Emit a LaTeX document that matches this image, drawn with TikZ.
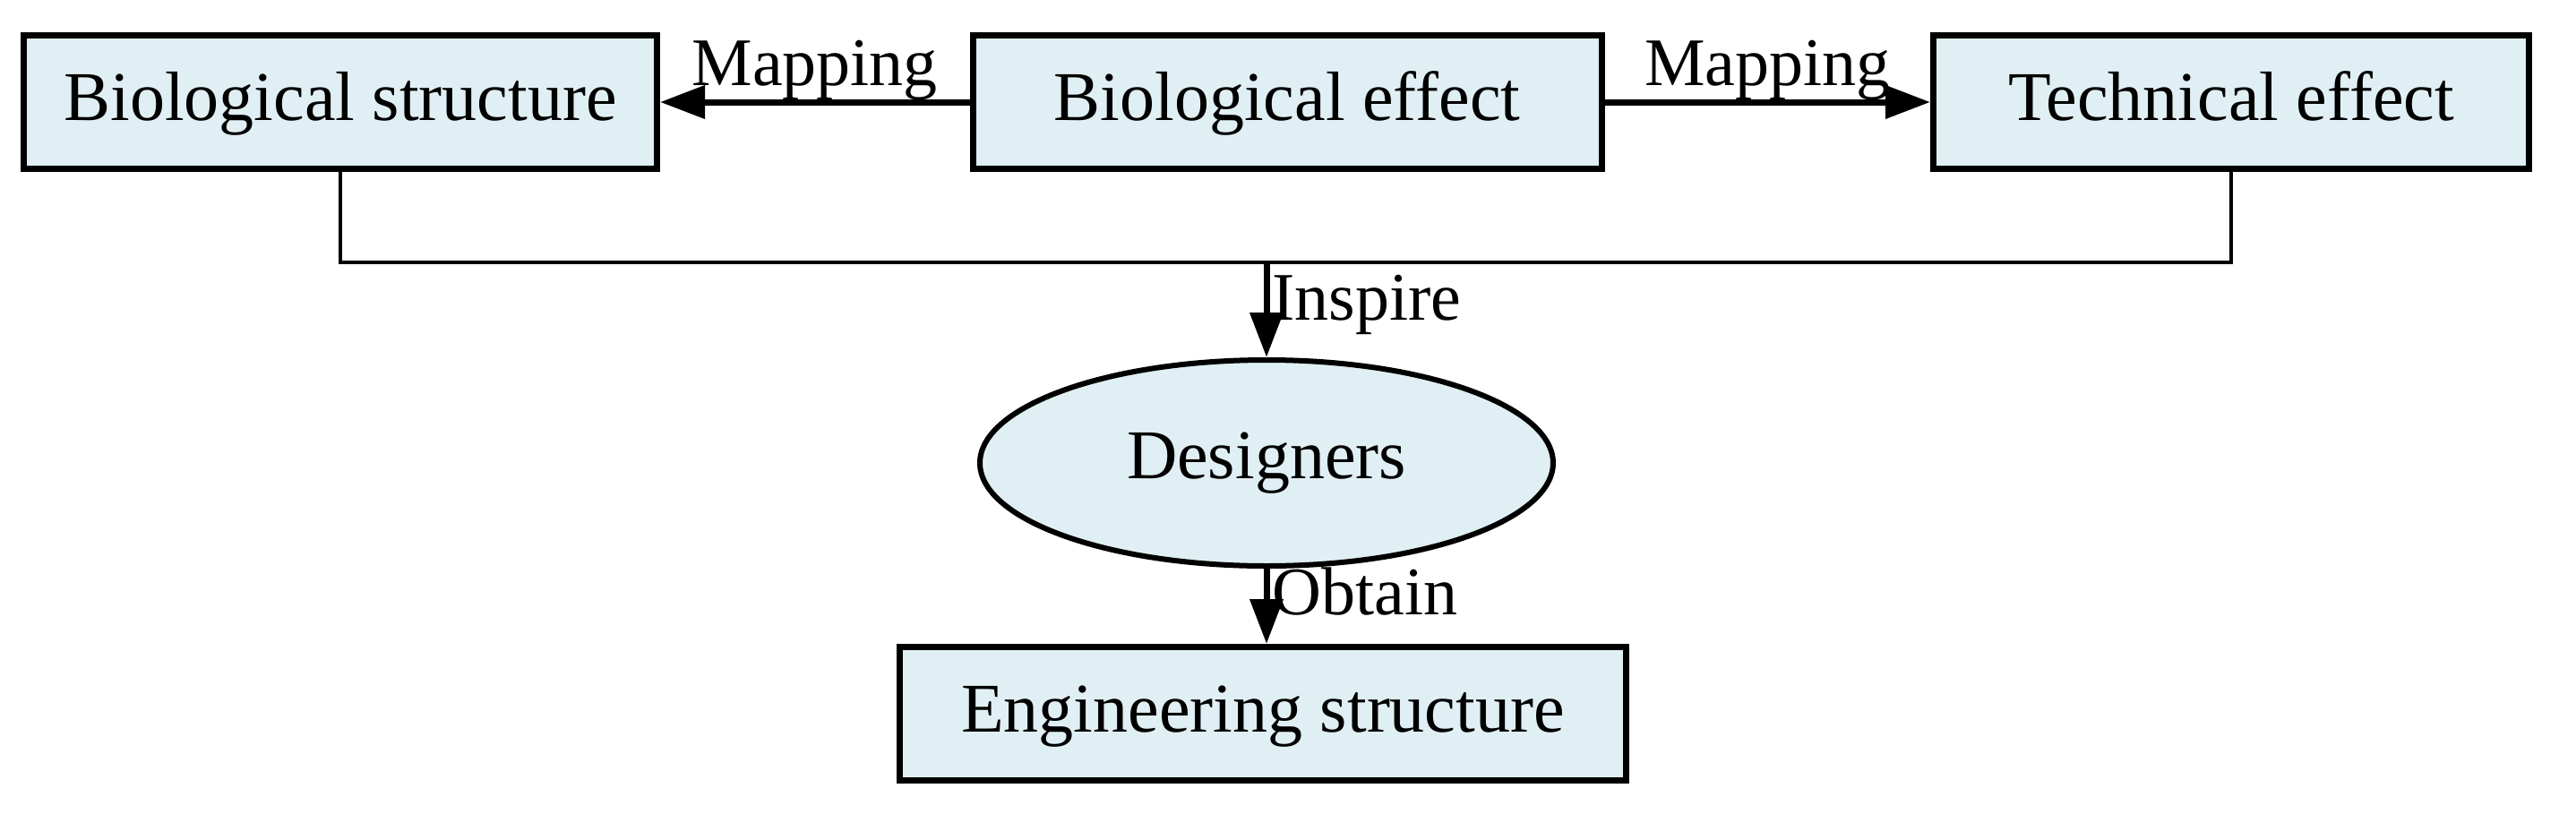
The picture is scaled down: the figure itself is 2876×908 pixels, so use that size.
\documentclass[tikz,border=0pt]{standalone}
\usepackage{fontspec}
\setmainfont{Liberation Serif}
\usetikzlibrary{shapes.geometric,arrows.meta}
\definecolor{boxfill}{HTML}{E0EFF3}
\begin{document}
\begin{tikzpicture}[x=1pt,y=-1pt,
  box/.style={draw,line width=7pt,fill=boxfill,minimum height=149pt,inner sep=0pt,text height=54pt,text depth=14pt,font=\fontsize{78}{84}\selectfont},
  ell/.style={ellipse,draw,line width=6pt,fill=boxfill,minimum width=640pt,minimum height=230pt,inner sep=0pt,font=\fontsize{78}{84}\selectfont},
  arr/.style={line width=7pt,-{Triangle[length=50pt,width=36pt]}},
  thin/.style={line width=3.5pt},
  lab/.style={font=\fontsize{76}{82}\selectfont,inner sep=3pt}]
\useasboundingbox (0,0) rectangle (2876,908);
\node[box,minimum width=707pt] (bs) at (380,114) {Biological structure};
\node[box,minimum width=702pt] (be) at (1437,114) {Biological effect};
\node[box,minimum width=665pt] (te) at (2491,114) {Technical effect};
\node[ell] (d) at (1414,517) {Designers};
\node[box,minimum width=811pt] (es) at (1410,797) {Engineering structure};
\coordinate (j) at (1414,293);
\draw[arr] (be.west) -- node[lab,above,yshift=-4pt]{Mapping} (bs.east);
\draw[arr] (be.east) -- node[lab,above,yshift=-4pt]{Mapping} (te.east-|te.west);
\draw[thin] (bs.south) |- (j);
\draw[thin] (te.south) |- (j);
\draw[arr] (j) -- node[lab,right,pos=0.45]{Inspire} (d.north);
\draw[arr] (d.south) -- node[lab,right,pos=0.3]{Obtain} (es.north-|d.south);
\end{tikzpicture}
\end{document}
